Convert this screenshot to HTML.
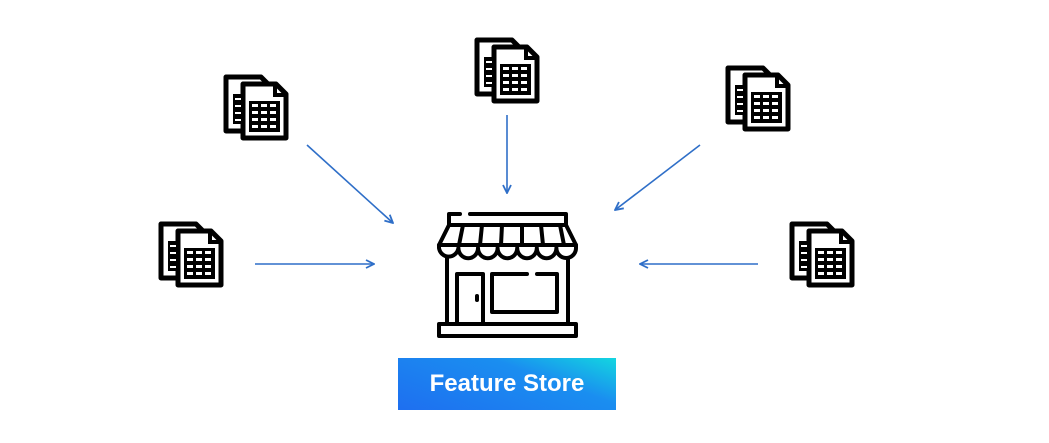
<!DOCTYPE html>
<html><head><style>
html,body{margin:0;padding:0;background:#fff;}
.wrap{position:relative;width:1049px;height:443px;overflow:hidden;}
.btn{position:absolute;left:398px;top:358px;width:218px;height:52px;background:linear-gradient(200deg,#13d6e0 0%,#1a8ef0 35%,#1e6ff0 100%);color:#fff;font:bold 24px "Liberation Sans",sans-serif;text-align:center;line-height:52px;}
</style></head><body><div class="wrap">
<svg width="1049" height="443" style="position:absolute;left:0;top:0">
<defs>
<marker id="ar" markerWidth="10" markerHeight="10" refX="9" refY="5" orient="auto" markerUnits="userSpaceOnUse">
<path d="M1,1 L9,5 L1,9" fill="none" stroke="#2f6fc8" stroke-width="1.8"/></marker>
<g id="doc">
<path d="M3,3 H38 L48,13 V57 H3 Z" fill="#fff" stroke="#000" stroke-width="5" stroke-linejoin="round"/>
<path d="M20,10 H53 L63,20 V64 H20 Z" fill="#fff" stroke="#000" stroke-width="5" stroke-linejoin="round"/>
<path d="M52,10 V21 H63" fill="none" stroke="#000" stroke-width="4"/>
<rect x="10" y="20" width="10" height="30" fill="#000"/>
<rect x="26" y="27" width="31" height="31" fill="#000"/>
<g fill="#fff">
<rect x="29" y="30" width="6" height="3"/><rect x="38" y="30" width="6" height="3"/><rect x="47" y="30" width="6" height="3"/>
<rect x="29" y="37" width="6" height="3"/><rect x="38" y="37" width="6" height="3"/><rect x="47" y="37" width="6" height="3"/>
<rect x="29" y="44" width="6" height="3"/><rect x="38" y="44" width="6" height="3"/><rect x="47" y="44" width="6" height="3"/>
<rect x="29" y="51" width="6" height="3"/><rect x="38" y="51" width="6" height="3"/><rect x="47" y="51" width="6" height="3"/>
<rect x="12" y="24" width="6" height="2"/><rect x="12" y="31" width="6" height="2"/><rect x="12" y="38" width="6" height="2"/><rect x="12" y="45" width="6" height="2"/>
</g>
</g>
</defs>
<use href="#doc" x="223" y="74"/>
<use href="#doc" x="474" y="37"/>
<use href="#doc" x="725" y="65"/>
<use href="#doc" x="158" y="221"/>
<use href="#doc" x="789" y="221"/>
<g stroke="#2f6fc8" stroke-width="1.6" fill="none" marker-end="url(#ar)">
<line x1="307" y1="145" x2="393" y2="223"/>
<line x1="507" y1="115" x2="507" y2="193"/>
<line x1="700" y1="145" x2="615" y2="210"/>
<line x1="255" y1="264" x2="374" y2="264"/>
<line x1="758" y1="264" x2="640" y2="264"/>
</g>
<g stroke="#000" stroke-width="4" fill="none" stroke-linejoin="round" stroke-linecap="round">
<path d="M460,214 H449 V225 H566 V214 H470"/>
<path d="M449,225 L439,245 M566,225 L576,245"/>
<path d="M463,225 L459,245 M482,225 L480,245 M502,225 L501,245 M522,225 L522,245 M541,225 L543,245 M560,225 L564,245"/>
<path d="M439,245 H576 V248 a9.8,10 0 0 1 -19.6,0 a9.6,10 0 0 1 -19.6,0 a9.6,10 0 0 1 -19.6,0 a9.6,10 0 0 1 -19.6,0 a9.6,10 0 0 1 -19.6,0 a9.6,10 0 0 1 -19.6,0 a9.8,10 0 0 1 -19.4,0 Z"/>
<path d="M447,258 V324 M568,258 V324"/>
<path d="M457,324 V274 H483 V324"/>
<path d="M527,274 H492 V312 H557 V274 H537"/>
<path d="M439,324 H576 V336 H439 Z"/>
<line x1="477" y1="296" x2="477" y2="300"/>
</g>
</svg>
<div class="btn">Feature Store</div>
</div></body></html>
